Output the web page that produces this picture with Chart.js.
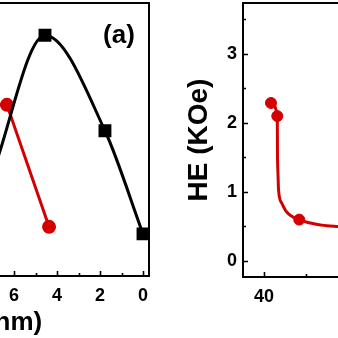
<!DOCTYPE html>
<html>
<head>
<meta charset="utf-8">
<script src="https://cdn.jsdelivr.net/npm/chart.js@4.4.1/dist/chart.umd.min.js"></script>
<style>
  html, body { margin: 0; padding: 0; background: #fff; overflow: hidden; width: 338px; height: 338px; }
  #wrap { position: relative; width: 338px; height: 338px; overflow: hidden; }
  canvas { position: absolute; top: 0; }
  #panel-a { left: -184px; }
  #panel-b { left: 182px; }
</style>
</head>
<body>
<div id="wrap">
  <canvas id="panel-a" width="344" height="338"></canvas>
  <canvas id="panel-b" width="360" height="338"></canvas>
</div>
<script>
// panel (a)
const thickBlack = [0, 1.77, 4.56, 7.0];
const heBlack = [1.28, 3.19, 4.96, 2.4];
const thickRed = [4.37, 6.33, 8.3];
const heRed = [1.41, 3.67, 3.7];

// panel (b): measured points and the fitted curve through them
const xRedPts = [39.17, 38.42, 35.80];
const heRedPts = [2.29, 2.10, 0.60];
const xFit = [15, 25, 31.19, 33.13, 35.80, 37.30, 37.89, 38.27, 38.33, 38.40, 38.42, 39.17];
const heFit = [0.43, 0.46, 0.50, 0.52, 0.60, 0.71, 0.84, 1.03, 1.25, 1.61, 2.10, 2.29];

const xTicksB = [40, 30, 20, 10];
const yTicksB = [0, 1, 2, 3];

const RED = '#d40000';
const FONT = 'Liberation Sans, Arial, Helvetica, sans-serif';

const pts = (xs, ys) => xs.map((x, i) => ({ x: x, y: ys[i] }));

// fixed axis box size, no automatic label padding around the plot
const fixBox = (w, h) => s => {
  if (w !== null) s.width = w;
  if (h !== null) s.height = h;
  s.paddingTop = 0;
  s.paddingBottom = 0;
  s.paddingLeft = 0;
  s.paddingRight = 0;
};

// box frame plus inward tick marks
const frameTicks = {
  id: 'frameTicks',
  afterDatasetsDraw(chart, args, o) {
    const { ctx, chartArea: a, scales } = chart;
    ctx.save();
    ctx.strokeStyle = '#000';
    ctx.lineWidth = 2;
    ctx.strokeRect(a.left, a.top, a.right - a.left, a.bottom - a.top);

    ctx.lineWidth = 1.6;
    ctx.beginPath();
    const sx = scales.x, sy = scales.y;
    for (let i = Math.ceil(sx.min / o.xMinor); i * o.xMinor <= sx.max; i++) {
      const v = i * o.xMinor;
      const r = v / o.xMajor;
      const len = Math.abs(r - Math.round(r)) < 1e-6 ? 5 : 3;
      const px = Math.round(sx.getPixelForValue(v)) + 0.5;
      ctx.moveTo(px, a.bottom);
      ctx.lineTo(px, a.bottom - len);
    }
    for (let i = Math.ceil(sy.min / o.yMinor); i * o.yMinor <= sy.max; i++) {
      const v = i * o.yMinor;
      const r = v / o.yMajor;
      const len = Math.abs(r - Math.round(r)) < 1e-6 ? 5 : 3;
      const py = Math.round(sy.getPixelForValue(v)) + 0.5;
      ctx.moveTo(a.left, py);
      ctx.lineTo(a.left + len, py);
    }
    ctx.stroke();

    if (o.tag) {
      ctx.fillStyle = '#000';
      ctx.font = 'bold 26px ' + FONT;
      ctx.textAlign = 'center';
      ctx.textBaseline = 'middle';
      ctx.fillText(o.tag, a.right - 30, a.top + 33);
    }
    ctx.restore();
  }
};

const tickFont = { family: FONT, size: 18, weight: 'bold' };

new Chart(document.getElementById('panel-a'), {
  type: 'line',
  data: {
    datasets: [
      {
        data: pts(thickBlack, heBlack),
        borderColor: '#000',
        backgroundColor: '#000',
        borderWidth: 3,
        pointStyle: 'rect',
        pointRadius: 7,
        cubicInterpolationMode: 'monotone'
      },
      {
        data: pts(thickRed, heRed),
        borderColor: RED,
        backgroundColor: RED,
        borderWidth: 3,
        pointStyle: 'circle',
        pointRadius: 5.5,
        tension: 0
      }
    ]
  },
  options: {
    responsive: false,
    animation: false,
    layout: { autoPadding: false, padding: { top: 3, right: 11, bottom: 0, left: 0 } },
    plugins: {
      legend: { display: false },
      tooltip: { enabled: false },
      frameTicks: { xMinor: 1, xMajor: 2, yMinor: 1, yMajor: 1, tag: '(a)' }
    },
    scales: {
      x: {
        type: 'linear',
        reverse: true,
        min: -0.279,
        max: 13.35,
        afterFit: fixBox(null, 62),
        grid: { display: false, drawTicks: false },
        border: { display: false },
        ticks: { stepSize: 2, includeBounds: false, color: '#000', font: tickFont, padding: 9, maxRotation: 0 },
        title: { display: true, text: 'd (nm)', color: '#000', font: { family: FONT, size: 26, weight: 'bold' }, padding: { top: 0, bottom: 0 } }
      },
      y: {
        type: 'linear',
        min: 0.5,
        max: 5.556,
        afterFit: fixBox(40, null),
        grid: { display: false, drawTicks: false },
        border: { display: false },
        ticks: { display: false }
      }
    }
  },
  plugins: [frameTicks]
});

new Chart(document.getElementById('panel-b'), {
  type: 'line',
  data: {
    datasets: [
      {
        data: pts(xFit, heFit),
        borderColor: RED,
        borderWidth: 3,
        pointRadius: 0,
        cubicInterpolationMode: 'monotone'
      },
      {
        data: pts(xRedPts, heRedPts),
        showLine: false,
        borderColor: RED,
        backgroundColor: RED,
        pointStyle: 'circle',
        pointRadius: 5.5
      }
    ]
  },
  options: {
    responsive: false,
    animation: false,
    layout: { autoPadding: false, padding: { top: 3, right: 10, bottom: 0, left: 0 } },
    plugins: {
      legend: { display: false },
      tooltip: { enabled: false },
      frameTicks: { xMinor: 5, xMajor: 10, yMinor: 0.5, yMajor: 1 }
    },
    scales: {
      x: {
        type: 'linear',
        reverse: true,
        min: 8.095,
        max: 42.5,
        afterFit: fixBox(null, 61),
        afterBuildTicks: s => { s.ticks = xTicksB.map(v => ({ value: v })); },
        grid: { display: false, drawTicks: false },
        border: { display: false },
        ticks: { color: '#000', font: tickFont, padding: 9, maxRotation: 0 }
      },
      y: {
        type: 'linear',
        min: -0.232,
        max: 3.739,
        afterFit: fixBox(61, null),
        afterBuildTicks: s => { s.ticks = yTicksB.map(v => ({ value: v })); },
        grid: { display: false, drawTicks: false },
        border: { display: false },
        ticks: { color: '#000', font: tickFont, padding: 6 },
        title: { display: true, text: 'HE (KOe)', color: '#000', font: { family: FONT, size: 28, weight: 'bold' }, padding: { top: 0, bottom: 0 } }
      }
    }
  },
  plugins: [frameTicks]
});
</script>
</body>
</html>
